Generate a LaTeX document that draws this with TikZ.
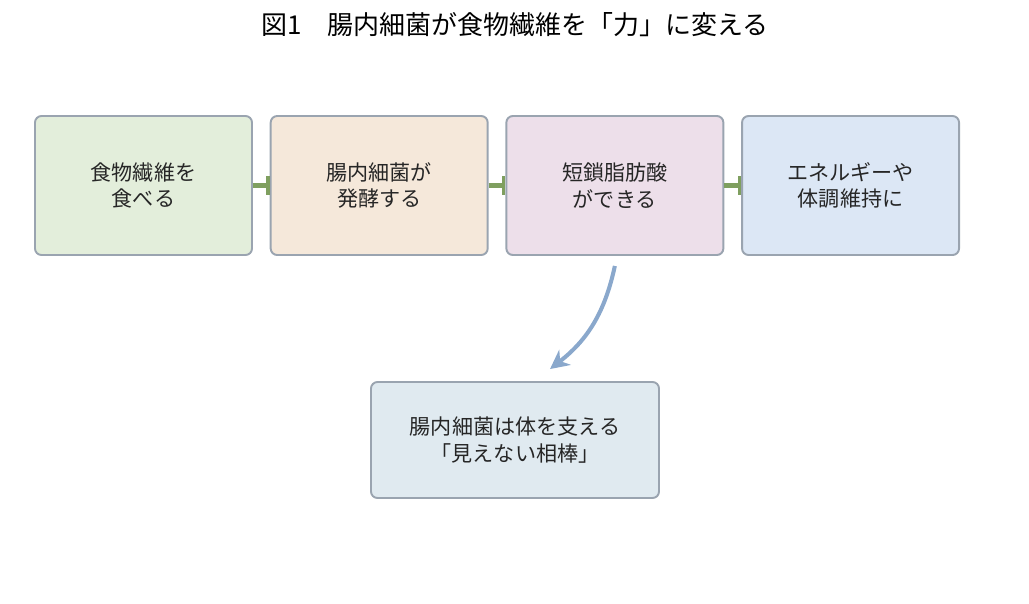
\documentclass[tikz,border=0pt]{standalone}
\usepackage{fontspec}
\setmainfont{Noto Sans CJK JP}
\usetikzlibrary{positioning,arrows.meta}

\definecolor{bordure}{HTML}{9AA4B0}
\definecolor{vert}{HTML}{7F9F5F}
\definecolor{bleu}{HTML}{8AA8CC}

\begin{document}
\begin{tikzpicture}[node distance=0.335cm and 0.335cm,
    boite/.style={draw=bordure, line width=1.1pt, rounded corners=0.13cm,
      minimum width=4.34cm, minimum height=2.78cm, align=center,
      font=\fontsize{12pt}{15pt}\selectfont, text=black!85},
    lien/.style={vert, line width=2.4pt, -{Bar[width=0.38cm, line width=2pt]}},
    fleche/.style={bleu, line width=2.3pt, -{Stealth[length=0.38cm, width=0.38cm]}}]
        \useasboundingbox (0,0) rectangle (20.58,-12.06);

        % Le titre
        \node (t) at (10.3,-0.5) {\fontsize{14.8pt}{18pt}\selectfont 図1\quad 腸内細菌が食物繊維を「力」に変える};

        % Les boites
        \node (1) [boite, fill={rgb,255:red,227;green,238;blue,219}] at (2.87,-3.71) {食物繊維を\\食べる};
        \node (2) [boite, fill={rgb,255:red,245;green,232;blue,218}, right=of 1] {腸内細菌が\\発酵する};
        \node (3) [boite, fill={rgb,255:red,237;green,223;blue,234}, right=of 2] {短鎖脂肪酸\\ができる};
        \node (4) [boite, fill={rgb,255:red,220;green,231;blue,245}, right=of 3] {エネルギーや\\体調維持に};
        \node (5) [boite, fill={rgb,255:red,224;green,234;blue,240}, minimum width=5.76cm, minimum height=2.32cm] at (10.3,-8.8) {腸内細菌は体を支える\\「見えない相棒」};

        % Les liens
        \draw[lien] (1) -- (2);
        \draw[lien] (2) -- (3);
        \draw[lien] (3) -- (4);
        \coordinate (d) at ([yshift=-0.2cm]3.south);
        \coordinate (f) at ([xshift=0.7cm, yshift=0.24cm]5.north);
        \draw[fleche] (d) to[bend left=20] (f);
    \end{tikzpicture}
\end{document}
